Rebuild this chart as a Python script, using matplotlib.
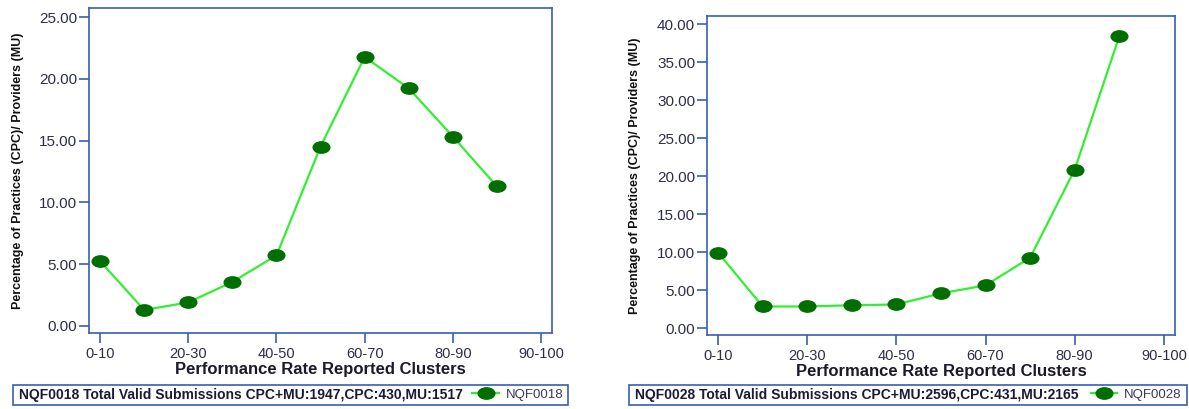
import matplotlib
matplotlib.use('Agg')
import matplotlib.pyplot as plt
from matplotlib.path import Path
from matplotlib.patches import Rectangle
from matplotlib.lines import Line2D
import numpy as np

plt.rcParams['font.family'] = ['Liberation Sans', 'DejaVu Sans']

# category slots; only every second slot is labelled in the source chart
tick_pos = [0, 2, 4, 6, 8, 10]
tick_labels = ['0-10', '20-30', '40-50', '60-70', '80-90', '90-100']

clusters = list(range(10))
nqf0018 = [5.25, 1.29, 1.91, 3.56, 5.71, 14.52, 21.77, 19.23, 15.33, 11.29]
nqf0028 = [9.92, 2.84, 2.84, 3.0, 3.1, 4.57, 5.62, 9.26, 20.86, 38.42]

legend_0018 = 'NQF0018 Total Valid Submissions CPC+MU:1947,CPC:430,MU:1517'
legend_0028 = 'NQF0028 Total Valid Submissions CPC+MU:2596,CPC:431,MU:2165'

spine_col = '#3a5db0'
text_col = '#2e2e4a'
line_col = '#33ee33'
dot_col = '#006e00'

# squashed circle, the source image is stretched sideways
circ = Path.unit_circle()
ellipse = Path(circ.vertices * [1.0, 0.68], circ.codes)

fig = plt.figure(figsize=(11.89, 4.09), dpi=100)


def draw(rect, values, ylim, yticks, name, legend_text, box, ylab_x):
    ax = fig.add_axes(rect)
    ax.plot(clusters, values, color=line_col, lw=1.6, marker=ellipse,
            ms=12, mfc=dot_col, mec=dot_col, zorder=3)
    ax.set_xlim(-0.25, 10.25)
    ax.set_ylim(*ylim)
    ax.set_xticks(tick_pos)
    ax.set_xticklabels(tick_labels)
    ax.set_yticks(yticks)
    ax.set_yticklabels(['%.2f' % v for v in yticks])
    for s in ax.spines.values():
        s.set_color(spine_col)
        s.set_linewidth(1.2)
    ax.tick_params(axis='both', colors=spine_col, labelcolor=text_col,
                   labelsize=10.5, length=7, width=1.2, direction='out')
    ax.tick_params(axis='y', pad=1.5, labelsize=11)
    ax.tick_params(axis='x', pad=3)
    ax.set_xlabel('Performance Rate Reported Clusters', fontsize=12,
                  fontweight='bold', color='#1a1a2a', labelpad=1)
    fig.text(ylab_x, rect[1] + rect[3] / 2, 'Percentage of Practices (CPC)/ Providers (MU)',
             rotation=90, ha='center', va='center', fontsize=9,
             fontweight='bold', color='#111111')

    # legend strip under the chart
    x0, y0, w, h = box
    fig.patches.append(Rectangle((x0, y0), w, h, transform=fig.transFigure,
                                 fill=False, ec=spine_col, lw=1.2))
    fig.text(x0 + 0.005, y0 + h / 2, legend_text, ha='left', va='center',
             fontsize=10, fontweight='bold', color='#1a1a3a')
    handle = Line2D([], [], color=line_col, lw=1.6, marker=ellipse, ms=12,
                    mfc=dot_col, mec=dot_col)
    leg = fig.legend([handle], [name], loc='center right',
                     bbox_to_anchor=(x0 + w, y0 + h / 2), frameon=False,
                     fontsize=9.5, handlelength=2.0, handletextpad=0.5,
                     borderaxespad=0.2, borderpad=0.2)
    for t in leg.get_texts():
        t.set_color('#3a3a5a')
    return ax


draw([0.0749, 0.1858, 0.3894, 0.7946], nqf0018, (-0.57, 25.73),
     [0, 5, 10, 15, 20, 25], 'NQF0018', legend_0018,
     (0.011, 0.0098, 0.467, 0.049), 0.015)
draw([0.5946, 0.1809, 0.3936, 0.78], nqf0028, (-0.92, 41.1),
     [0, 5, 10, 15, 20, 25, 30, 35, 40], 'NQF0028', legend_0028,
     (0.529, 0.0098, 0.469, 0.049), 0.534)

fig.savefig('out.png', dpi=100)
